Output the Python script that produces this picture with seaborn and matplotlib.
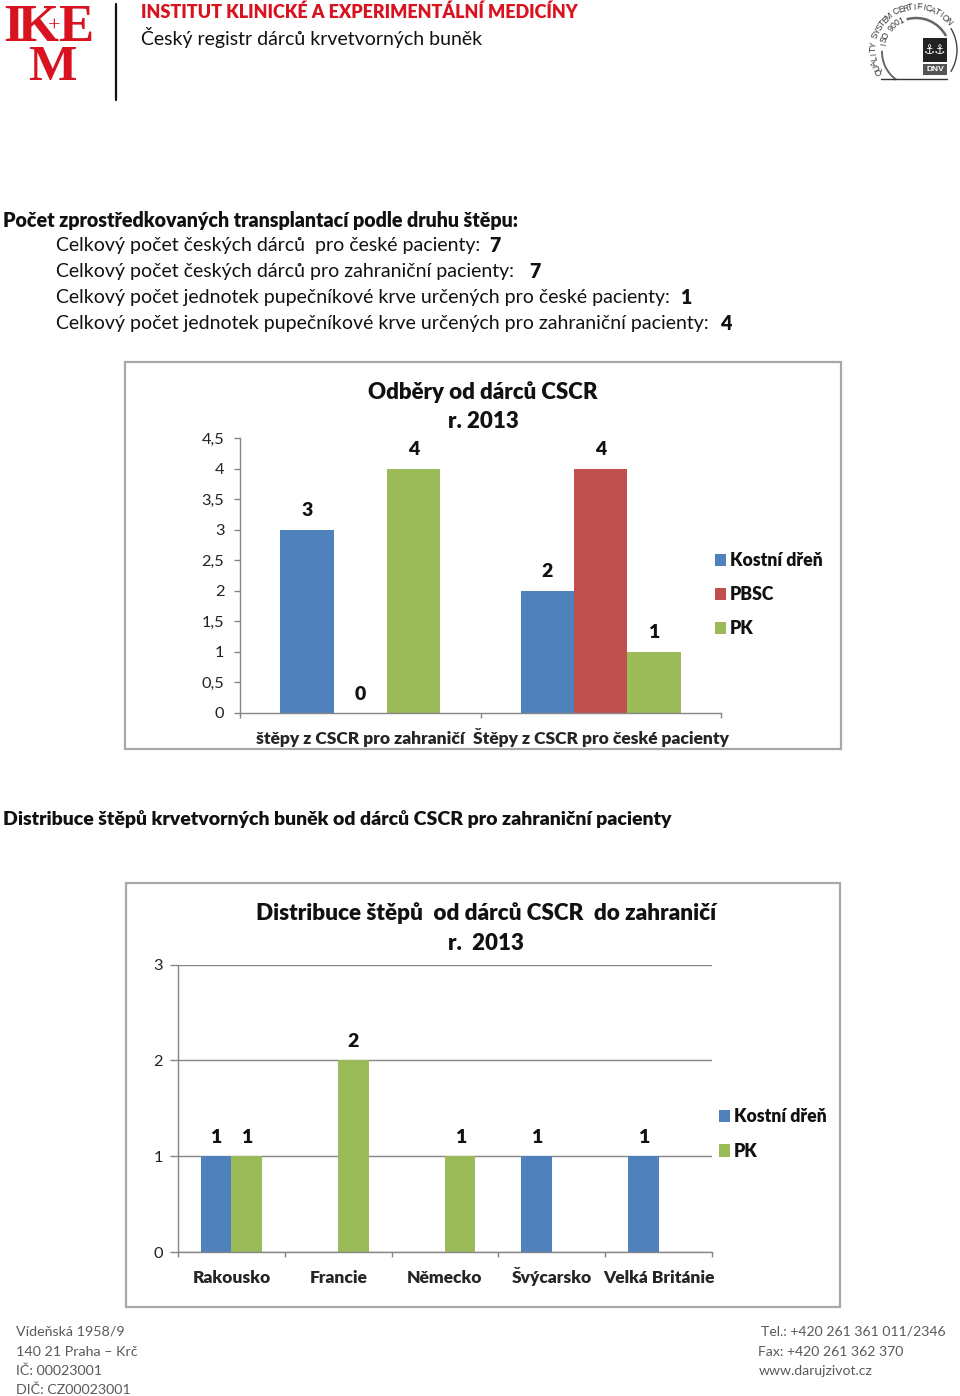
import numpy as np
import pandas as pd
import matplotlib
matplotlib.use('Agg')
import matplotlib.pyplot as plt
import seaborn as sns
from matplotlib.patches import Rectangle, Arc

# data chart 1
odbery_cats = ['štěpy z CSCR pro zahraničí', 'Štěpy z CSCR pro české pacienty']
odbery_kd = [3, 2]
odbery_pbsc = [0, 4]
odbery_pk = [4, 1]
odbery_ticks = [0, 0.5, 1, 1.5, 2, 2.5, 3, 3.5, 4, 4.5]
odbery_ticklabels = ['0', '0,5', '1', '1,5', '2', '2,5', '3', '3,5', '4', '4,5']

# data chart 2
zeme = ['Rakousko', 'Francie', 'Německo', 'Švýcarsko', 'Velká Británie']
zeme_kd = [1, 0, 0, 1, 1]
zeme_pk = [1, 2, 1, 0, 0]
zeme_ticks = [0, 1, 2, 3]

BLUE, RED, GREEN = '#4F81BD', '#C0504D', '#9BBB59'
AXIS = '#868686'
W, H = 960, 1396
HEAVY = 800

sns.set_theme(style='white')
plt.rcParams['font.family'] = ['Lato', 'DejaVu Sans']
plt.rcParams['text.color'] = '#111111'

fig = plt.figure(figsize=(W / 100, H / 100), dpi=100, facecolor='white')

# overlay in pixel coordinates for page text and frames
page = fig.add_axes([0, 0, 1, 1], zorder=0)
page.set_xlim(0, W)
page.set_ylim(H, 0)
page.axis('off')


def px_axes(x0, ytop, x1, ybot):
    ax = fig.add_axes([x0 / W, 1 - ybot / H, (x1 - x0) / W, (ybot - ytop) / H], zorder=1)
    ax.patch.set_alpha(0)
    return ax


def txt(x, y, s, size=14.1, weight='normal', **kw):
    kw.setdefault('va', 'center')
    page.text(x, y, s, fontsize=size, fontweight=weight, **kw)


def style_axes(ax, n, ticks, ticklabels, ticklen, ypad):
    ax.set_xlim(-0.5, n - 0.5)
    ax.set_ylim(ticks[0], ticks[-1])
    ax.set_xlabel('')
    ax.set_ylabel('')
    ax.set_yticks(ticks)
    ax.set_yticklabels(ticklabels, fontsize=11.8, color='#222222')
    ax.set_xticks(np.arange(n))
    ax.set_xticks(np.arange(n + 1) - 0.5, minor=True)
    ax.tick_params(axis='x', which='major', length=0, pad=22.5, labelsize=12.5)
    ax.tick_params(axis='x', which='minor', length=3.6, width=1, color=AXIS, bottom=True)
    ax.tick_params(axis='y', length=ticklen, width=1, color=AXIS, left=True, pad=ypad)
    for lab in ax.get_xticklabels():
        lab.set_fontweight(HEAVY)
        lab.set_verticalalignment('baseline')
    for side in ['top', 'right']:
        ax.spines[side].set_visible(False)
    for side in ['left', 'bottom']:
        ax.spines[side].set_color(AXIS)
        ax.spines[side].set_linewidth(1)


def frame(x0, y0, x1, y1):
    page.add_patch(Rectangle((x0, y0), x1 - x0, y1 - y0, fc='white', ec='#A8A8A8', lw=1.6))


def legend(ax, x, y, spacing):
    handles, labels = ax.get_legend_handles_labels()
    ax.legend(handles, labels, loc='upper left', bbox_to_anchor=(x / W, 1 - y / H),
              bbox_transform=fig.transFigure, frameon=False, handlelength=0.65, handleheight=0.7,
              handletextpad=0.2, labelspacing=spacing, borderpad=0, borderaxespad=0,
              prop={'weight': HEAVY, 'size': 12.7})


# header
for x, s in [(3, 'I'), (17, 'K'), (58, 'E')]:
    txt(x, 41, s, size=38, weight='bold', color='#D8121F', family='Liberation Serif', va='baseline')
txt(54, 27, '+', size=16, color='#D8121F', family='Liberation Serif', ha='center')
txt(28, 80, 'M', size=37, weight='bold', color='#D8121F', family='Liberation Serif', va='baseline')
page.plot([116, 116], [4, 100], color='#111111', lw=1.6)
txt(141, 12, 'INSTITUT KLINICKÉ A EXPERIMENTÁLNÍ MEDICÍNY', size=13.0, weight=HEAVY, color='#D8121F')
txt(141, 38, 'Český registr dárců krvetvorných buněk', size=14.0)

# certification seal
seal_x, seal_y = 916, 50
seal_text = 'QUALITY SYSTEM CERTIFICATION'
for ch, a in zip(seal_text, np.linspace(210, 42, len(seal_text))):
    page.text(seal_x + 43 * np.cos(np.radians(a)), seal_y - 43 * np.sin(np.radians(a)), ch, fontsize=6.2,
              rotation=a - 90, ha='center', va='center', color='#333333', family='Liberation Sans')
inner_text = 'ISO 9001'
for ch, a in zip(inner_text, np.linspace(170, 116, len(inner_text))):
    page.text(seal_x + 33 * np.cos(np.radians(a)), seal_y - 33 * np.sin(np.radians(a)), ch, fontsize=6.2,
              rotation=a - 90, ha='center', va='center', color='#333333', family='Liberation Sans')
# y axis of the page is inverted, so arc angles are negative here
page.add_patch(Arc((916, 52), 68, 68, theta1=-106, theta2=-28, ec='#666666', lw=1.8))
page.add_patch(Arc((916, 52), 68, 68, theta1=-235, theta2=-178, ec='#666666', lw=1.4))
page.add_patch(Arc((916, 50), 82, 82, theta1=-32, theta2=32, ec='#444444', lw=1))
page.add_patch(Rectangle((923, 38), 24, 24, fc='#222222', ec='none'))
page.add_patch(Rectangle((923, 64), 24, 11, fc='#555555', ec='none'))
txt(935, 50, '⚓⚓', size=9, color='white', ha='center', family='DejaVu Sans')
txt(935, 69.5, 'DNV', size=6, weight='bold', color='white', ha='center', family='Liberation Sans')
page.plot([881, 947], [79, 79], color='#333333', lw=1)

# page text
txt(3, 220, 'Počet zprostředkovaných transplantací podle druhu štěpu:', size=14.1, weight=HEAVY)
rows = [('Celkový počet českých dárců  pro české pacienty:', '7', 246, 489),
        ('Celkový počet českých dárců pro zahraniční pacienty:', '7', 272, 529),
        ('Celkový počet jednotek pupečníkové krve určených pro české pacienty:', '1', 298, 680),
        ('Celkový počet jednotek pupečníkové krve určených pro zahraniční pacienty:', '4', 324, 720)]
for s, v, y, vx in rows:
    txt(56, y, s, size=14.05)
    txt(vx, y, v, weight=HEAVY)
txt(3, 819, 'Distribuce štěpů krvetvorných buněk od dárců CSCR pro zahraniční pacienty', size=14.0, weight=HEAVY)

# chart 1
frame(125, 362, 841, 749)
df1 = pd.DataFrame({'kat': odbery_cats * 3,
                    'druh': ['Kostní dřeň'] * 2 + ['PBSC'] * 2 + ['PK'] * 2,
                    'pocet': odbery_kd + odbery_pbsc + odbery_pk})
ax1 = px_axes(240, 438, 721, 713)
sns.barplot(data=df1, x='kat', y='pocet', hue='druh', order=odbery_cats,
            palette=[BLUE, RED, GREEN], saturation=1, width=0.667, linewidth=0, ax=ax1)
style_axes(ax1, 2, odbery_ticks, odbery_ticklabels, 4.3, 7)
for cont in ax1.containers:
    ax1.bar_label(cont, fmt='%d', padding=7.5, fontsize=14, fontweight=HEAVY)
legend(ax1, 715, 552, 0.96)
txt(483, 392, 'Odběry od dárců CSCR', size=16, weight=HEAVY, ha='center')
txt(483, 422, 'r. 2013', size=16, weight=HEAVY, ha='center')

# chart 2
frame(126, 883, 840, 1307)
df2 = pd.DataFrame({'zeme': zeme * 2,
                    'druh': ['Kostní dřeň'] * 5 + ['PK'] * 5,
                    'pocet': zeme_kd + zeme_pk})
ax2 = px_axes(178, 964.5, 712, 1252)
sns.barplot(data=df2, x='zeme', y='pocet', hue='druh', order=zeme,
            palette=[BLUE, GREEN], saturation=1, width=0.571, linewidth=0, ax=ax2)
style_axes(ax2, 5, zeme_ticks, [str(t) for t in zeme_ticks], 5.8, 5)
ax2.yaxis.grid(True, color=AXIS, lw=1)
ax2.set_axisbelow(True)
for cont, vals in zip(ax2.containers, [zeme_kd, zeme_pk]):
    ax2.bar_label(cont, labels=[str(v) if v else '' for v in vals], padding=7.5, fontsize=14, fontweight=HEAVY)
legend(ax2, 719, 1108, 1.0)
txt(486, 913, 'Distribuce štěpů  od dárců CSCR  do zahraničí', size=16.2, weight=HEAVY, ha='center')
txt(486, 944, 'r.  2013', size=16, weight=HEAVY, ha='center')

# footer
FOOT = '#5A5A5A'
for y, s in zip([1331, 1352, 1371, 1390], ['Vídeňská 1958/9', '140 21 Praha – Krč', 'IČ: 00023001', 'DIČ: CZ00023001']):
    txt(16, y, s, size=10.3, color=FOOT)
for y, x, s in [(1332, 761, 'Tel.: +420 261 361 011/2346'), (1352, 758, 'Fax: +420 261 362 370'),
                (1371, 759, 'www.darujzivot.cz')]:
    txt(x, y, s, size=10.05, color=FOOT)

fig.savefig('out.png', dpi=100)
